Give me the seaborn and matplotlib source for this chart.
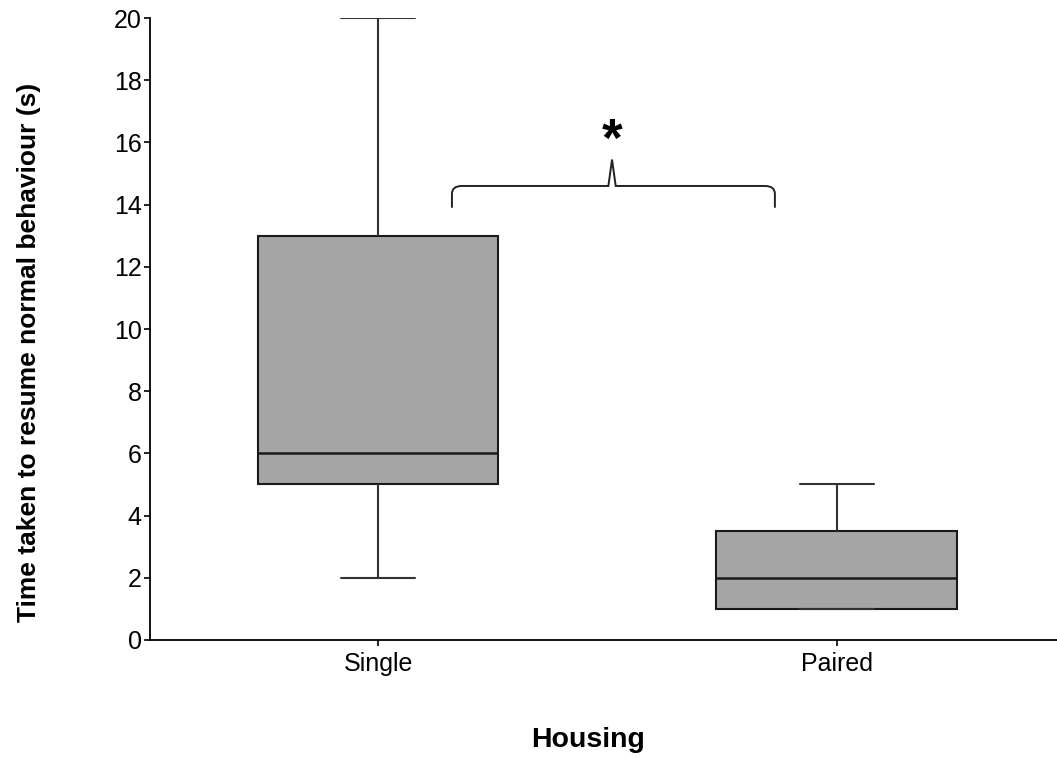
import numpy as np
import pandas as pd
import matplotlib
matplotlib.use("Agg")
import matplotlib.pyplot as plt
from matplotlib.path import Path
from matplotlib.patches import PathPatch
import seaborn as sns

# Five-number summaries per housing group
groups = ["Single", "Paired"]
whisker_low = [2.0, 1.0]
quartile_1 = [5.0, 1.0]
medians = [6.0, 2.0]
quartile_3 = [13.0, 3.5]
whisker_high = [20.0, 5.0]
y_ticks = [0, 2, 4, 6, 8, 10, 12, 14, 16, 18, 20]

# Build a 7-point sample per group whose quartiles equal the summary above
rows = []
for g, lo, q1, md, q3, hi in zip(groups, whisker_low, quartile_1, medians,
                                  quartile_3, whisker_high):
    for v in [lo, q1, q1, md, q3, q3, hi]:
        rows.append({"Housing": g, "Time": v})
df = pd.DataFrame(rows)

sns.set_theme(style="ticks")
plt.rcParams["font.family"] = ["Liberation Sans", "DejaVu Sans"]

fig = plt.figure(figsize=(10.57, 7.58), dpi=100)
ax = fig.add_axes([0.142, 0.1557, 0.858, 0.8205])

sns.boxplot(data=df, x="Housing", y="Time", order=groups, ax=ax,
            color="#a6a6a6", saturation=1, width=0.525, whis=(0, 100),
            linecolor="#1a1a1a", linewidth=1.5, capwidths=0.16,
            medianprops={"color": "#1a1a1a", "linewidth": 1.8},
            whiskerprops={"color": "#333333", "linewidth": 1.5},
            capprops={"color": "#333333", "linewidth": 1.5})

ax.set_xlim(-0.497, 1.48)
ax.set_ylim(0, 20)
ax.set_yticks(y_ticks)
ax.tick_params(axis="both", labelsize=18, length=4, width=1.2,
               colors="black", labelcolor="black")
ax.tick_params(axis="x", pad=5)
ax.tick_params(axis="y", pad=2)
for s in ["top", "right"]:
    ax.spines[s].set_visible(False)
for s in ["left", "bottom"]:
    ax.spines[s].set_linewidth(1.3)
    ax.spines[s].set_color("black")

ax.set_ylabel("Time taken to resume normal behaviour (s)", fontsize=19,
              fontweight="bold", color="black")
ax.yaxis.set_label_coords(-0.120, 0.463)
ax.set_xlabel("Housing", fontsize=20.5, fontweight="bold", color="black")
ax.xaxis.set_label_coords(0.4833, -0.1405)

# Curly brace joining the two groups, with significance marker
x0, x1, xc = 0.161, 0.865, 0.51
yb, ym, yp = 13.9, 14.6, 15.45
rx, ry = 0.022, 0.25
dx = 0.008
verts = [
    (x0, yb), (x0, ym - ry), (x0, ym), (x0 + rx, ym),
    (xc - dx, ym), (xc, yp), (xc + dx, ym),
    (x1 - rx, ym), (x1, ym), (x1, ym - ry), (x1, yb),
]
codes = [Path.MOVETO, Path.LINETO, Path.CURVE3, Path.CURVE3,
         Path.LINETO, Path.LINETO, Path.LINETO,
         Path.LINETO, Path.CURVE3, Path.CURVE3, Path.LINETO]
ax.add_patch(PathPatch(Path(verts, codes), fill=False, lw=1.4,
                       edgecolor="#222222", clip_on=False))
ax.text(xc, 16.0, "*", ha="center", va="center", fontsize=38,
        fontweight="bold", color="black")

fig.savefig("out.png", dpi=100)
